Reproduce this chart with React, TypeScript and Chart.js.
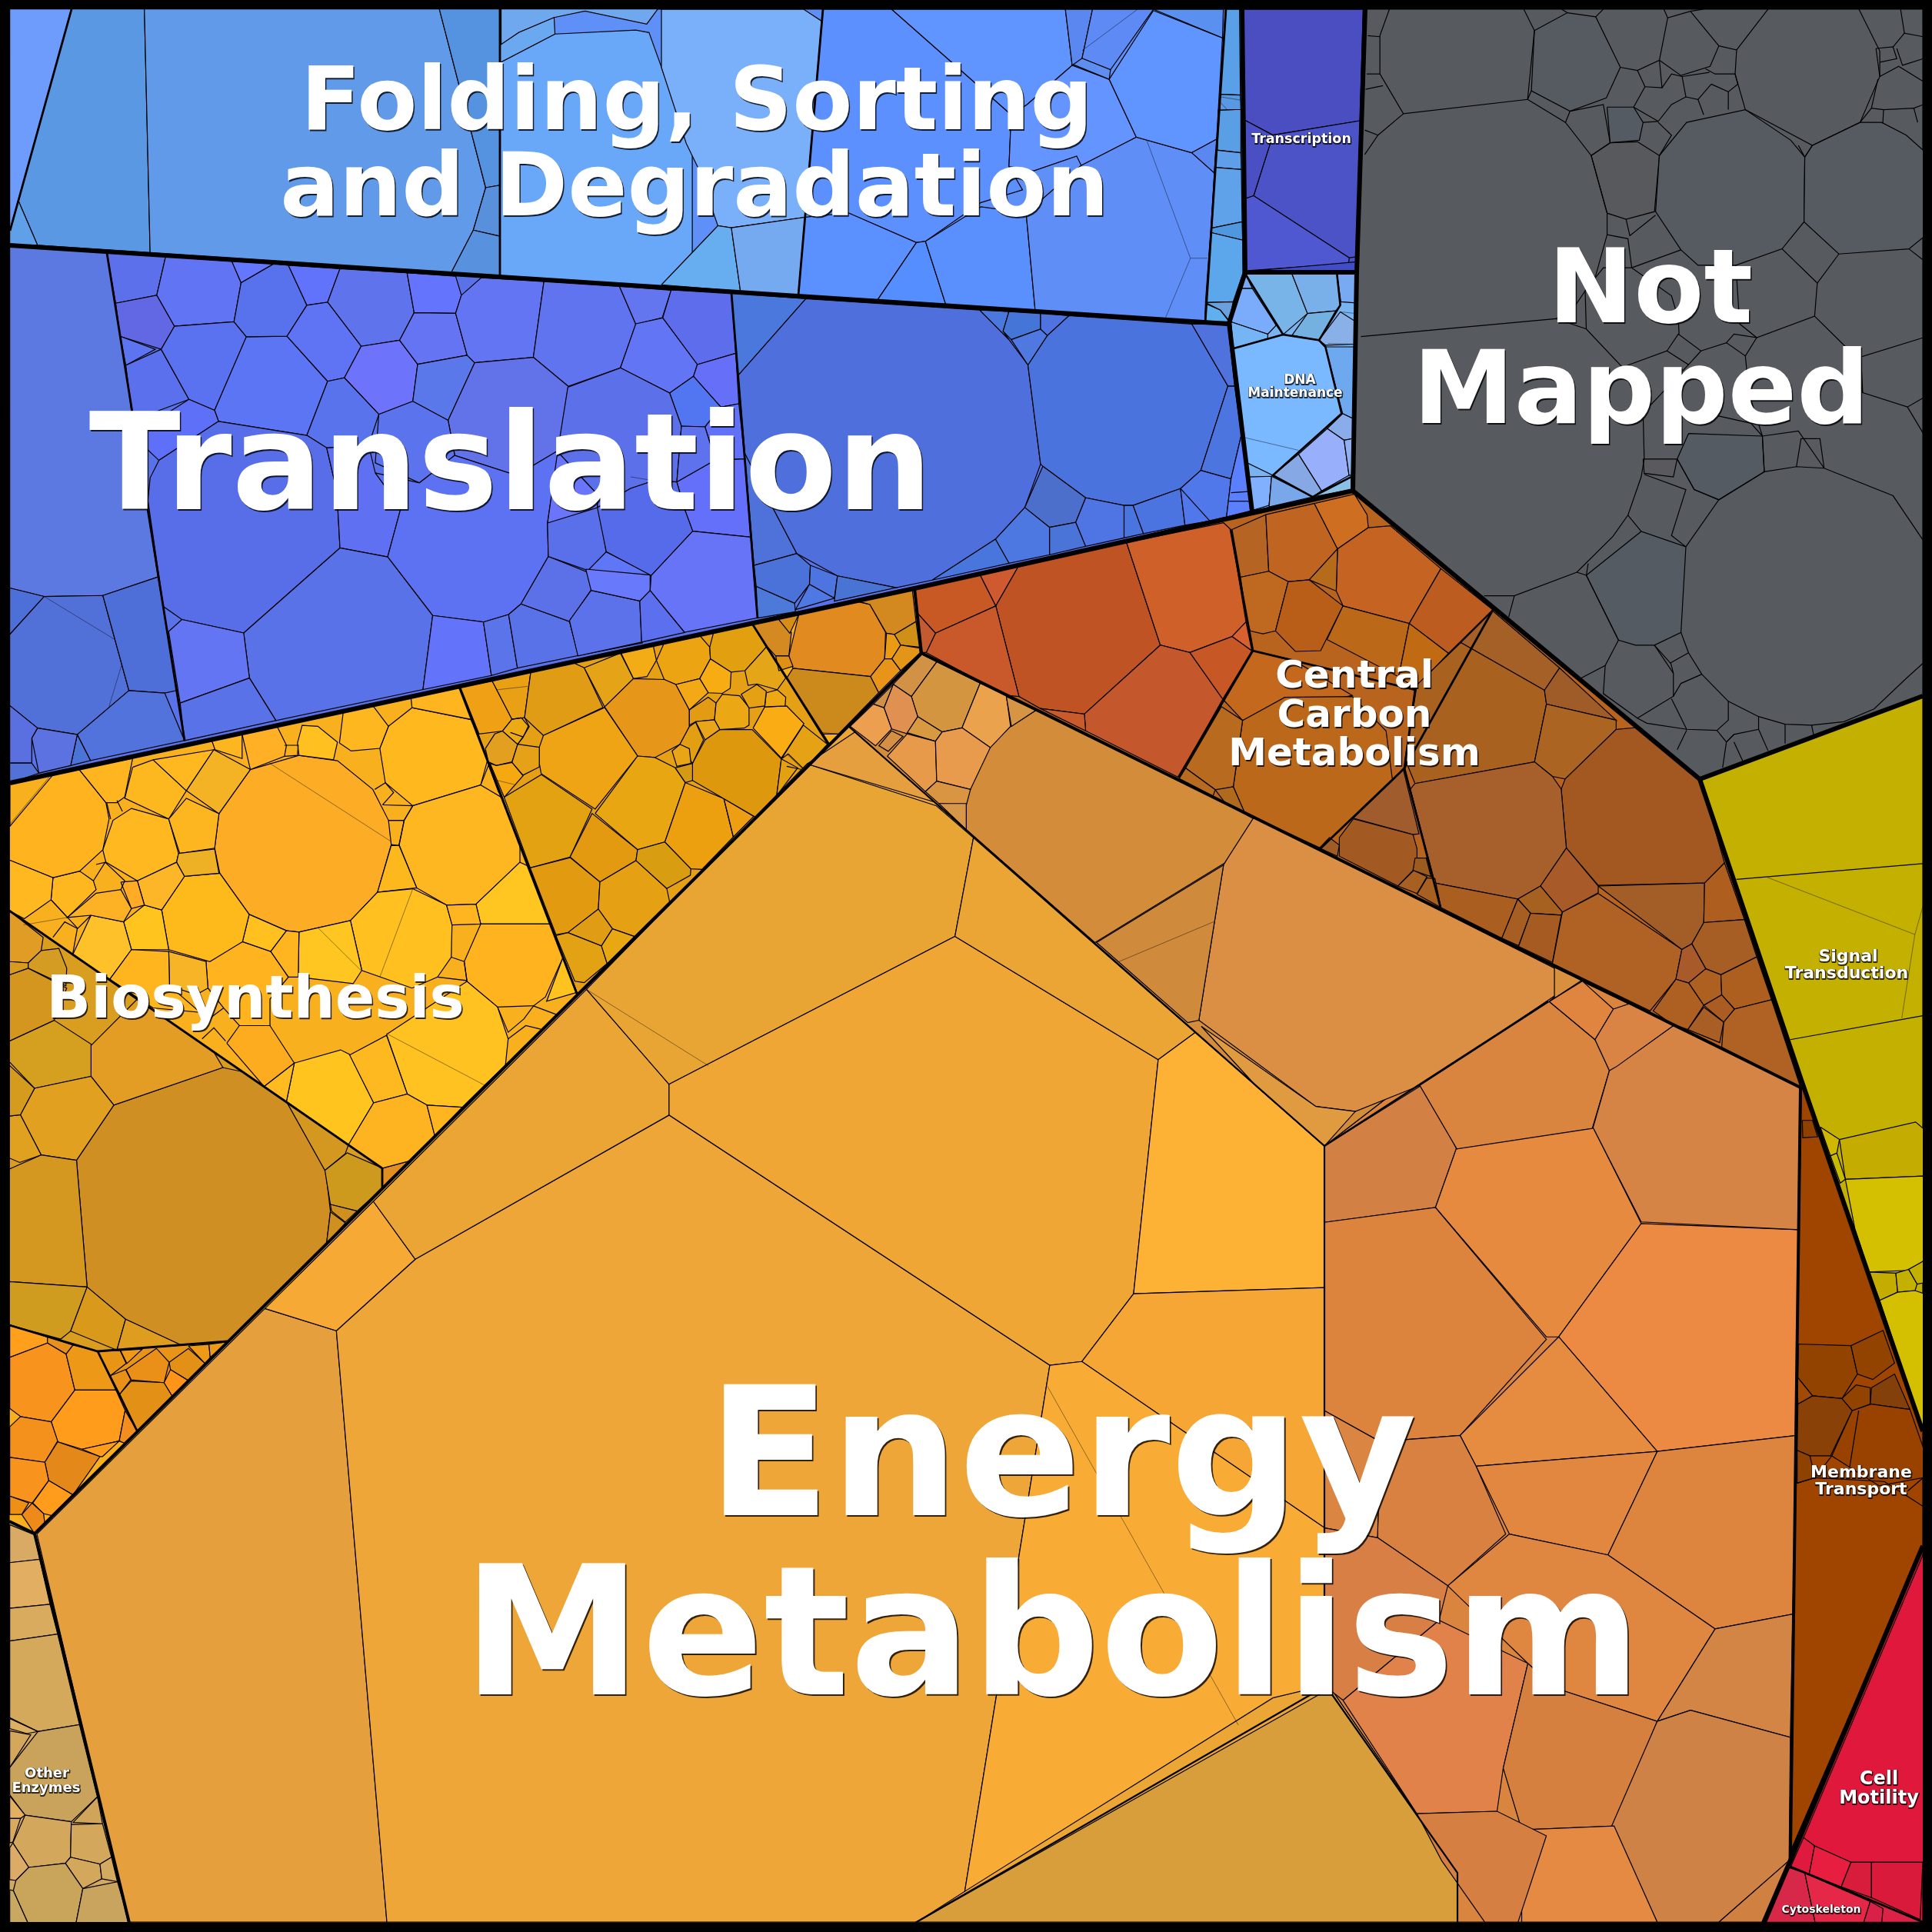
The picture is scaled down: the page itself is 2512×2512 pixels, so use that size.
import React, { useEffect, useRef } from "react";
import { Chart, registerables } from "chart.js";

Chart.register(...registerables);

type Crop = { x: number; y: number; sx: number; sy: number };
type Cell = (string | number)[];

// Reading frames: each list below is read in the frame named next to it.
const FULL: Crop = { x: 0, y: 0, sx: 1, sy: 1 };
const O: Crop = { x: 0, y: 0, sx: 0.6242, sy: 0.6242 };
const Z1: Crop = { x: 1740, y: 0, sx: 2.031, sy: 1.508 };
const Z2: Crop = { x: 0, y: 0, sx: 1.742, sy: 1.537 };
const Z3: Crop = { x: 860, y: 0, sx: 1.704, sy: 1.823 };
const Z4: Crop = { x: 0, y: 880, sx: 1.96, sy: 1.742 };
const Z5: Crop = { x: 580, y: 740, sx: 2.45, sy: 2.613 };
const Z6: Crop = { x: 1100, y: 640, sx: 1.823, sy: 2.063 };
const Z7: Crop = { x: 1700, y: 740, sx: 1.931, sy: 2.063 };
const Z8: Crop = { x: 0, y: 1680, sx: 3, sy: 1.885 };
const Z9: Crop = { x: 2200, y: 1400, sx: 3, sy: 1.41 };
const Z10: Crop = { x: 1560, y: 0, sx: 3, sy: 2.306 };
const Z11: Crop = { x: 720, y: 400, sx: 3, sy: 3 };

const regions: Cell[] = [
  ["#5f90f8", 12, 12, 1615, 12, 1619, 356, 1598, 420, 13, 319],
  ["#4b50c4", 1615, 12, 1775, 12, 1764, 355, 1619, 355],
  ["#79b4f0", 1619, 355, 1764, 355, 1760, 637, 1628, 664, 1598, 420],
  ["#575b60", 1775, 12, 2500, 12, 2500, 905, 2210, 1013, 1760, 637, 1764, 355],
  ["#5a72e8", 13, 319, 1596, 421, 1628, 664, 1189, 765, 13, 1018],
  ["#f8b01e", 13, 1018, 1189, 765, 1198, 849, 45, 1994, 12, 1978],
  ["#b8641f", 1189, 765, 1760, 637, 2210, 1013, 2341, 1414, 1198, 849],
  ["#eba636", 1198, 849, 2341, 1414, 2328, 2407, 2293, 2500, 168, 2500, 45, 1994],
  ["#c4b000", 2210, 1013, 2500, 905, 2500, 1861, 2342, 1414],
  ["#a04500", 2341, 1404, 2500, 1861, 2500, 2010, 2328, 2407],
  ["#df183c", 2500, 2010, 2500, 2500, 2293, 2500, 2328, 2415],
  ["#d4a860", 12, 1978, 45, 1994, 168, 2500, 12, 2500],
];

const notMappedCells: Cell[] = [
  ["#565b62", 518, 60, 605, 25, 680, 33, 745, 132, 708, 192, 612, 218, 510, 178],
  ["#555b62", 710, 210, 780, 210, 805, 240, 795, 275, 718, 280],
  ["#58595c", 790, 278, 848, 305, 835, 415, 760, 430, 710, 418, 668, 305, 718, 280],
  ["#565b62", 848, 305, 920, 240, 1075, 215, 1195, 275, 1232, 308, 1230, 435, 1172, 488, 1050, 520, 950, 520, 905, 490, 838, 415],
  ["#565b62", 1252, 285, 1378, 240, 1435, 240, 1500, 265, 1545, 295, 1545, 465, 1507, 488, 1322, 498, 1230, 435, 1232, 308],
  ["#555b62", 655, 1128, 800, 1042, 918, 1072, 905, 1240, 835, 1265, 785, 1265, 740, 1255],
  ["#545b62", 925, 850, 1120, 855, 1125, 925, 1005, 980, 940, 960, 895, 900],
  ["#5a5a5e", 805, 900, 895, 900, 885, 935, 808, 928],
];
const notMappedEdges: number[][] = [
  [135, 18, 110, 70, 110, 145, 172, 223, 500, 195, 518, 60, 490, 18],
  [172, 223, 105, 265, 70, 303],
  [78, 70, 110, 72],
  [75, 145, 110, 145],
  [72, 175, 118, 168],
  [70, 255, 105, 265],
  [500, 195, 510, 178],
  [680, 33, 700, 18],
  [605, 25, 590, 18],
  [745, 132, 790, 138, 848, 118, 870, 35, 930, 22, 965, 18],
  [870, 35, 860, 18],
  [930, 22, 1005, 90, 982, 130, 905, 148, 848, 118],
  [1005, 90, 1052, 98, 1048, 145, 1075, 215],
  [1052, 98, 1135, 18],
  [1375, 18, 1430, 100, 1430, 150, 1378, 240, 1252, 285, 1075, 215],
  [500, 195, 600, 240, 668, 305, 710, 418, 710, 460, 680, 540, 625, 600, 575, 625, 60, 660],
  [600, 240, 612, 218],
  [612, 218, 700, 205, 718, 280, 668, 305],
  [1215, 285, 1232, 308, 1252, 285],
  [1172, 488, 1265, 555, 1322, 498],
  [1265, 555, 1258, 620, 1105, 662, 1060, 635, 1050, 520],
  [1507, 488, 1545, 510],
  [1258, 620, 1340, 680, 1380, 700, 1545, 662],
  [1340, 680, 1385, 770, 1503, 798, 1545, 780],
  [1503, 798, 1545, 850],
  [1380, 700, 1385, 770],
  [575, 625, 655, 645, 750, 720, 805, 810, 808, 900, 800, 935, 765, 1010, 725, 1052, 630, 1122, 465, 1168, 385, 1168],
  [465, 1168, 450, 1210],
  [630, 1122, 655, 1128, 740, 1255, 705, 1305, 640, 1330],
  [660, 1105, 655, 1128],
  [800, 1042, 765, 1010],
  [808, 930, 918, 960, 880, 1050, 918, 1072],
  [895, 900, 940, 960, 1005, 980, 918, 1072],
  [1005, 980, 1125, 925, 1210, 915, 1283, 918, 1465, 972, 1545, 1060],
  [905, 1240, 925, 1280, 960, 1322, 1030, 1375, 1110, 1405, 1180, 1420, 1250, 1422, 1335, 1415, 1415, 1390, 1500, 1330, 1545, 1300],
  [1125, 925, 1120, 855, 1090, 830, 1000, 815],
  [1120, 855, 1215, 845, 1283, 918],
  [1210, 915, 1222, 860, 1272, 860, 1283, 918],
  [1120, 855, 1080, 760, 1078, 720],
  [750, 720, 868, 688, 925, 715, 805, 810],
  [868, 688, 898, 655, 958, 688, 925, 715],
  [958, 688, 1025, 672, 1075, 698, 1078, 720],
  [1025, 672, 1045, 655, 1105, 662, 1075, 698],
  [655, 645, 652, 570, 700, 525, 775, 525, 765, 468, 710, 460],
  [760, 430, 770, 462, 838, 422],
  [775, 525, 905, 490],
  [900, 655, 898, 625, 880, 580, 775, 525],
  [705, 1305, 700, 1360, 790, 1408, 885, 1365, 885, 1320, 835, 1265],
  [835, 1265, 877, 1300, 925, 1280],
  [885, 1320, 878, 1300],
  [960, 1322, 905, 1340, 885, 1365],
  [880, 1370, 920, 1430, 1000, 1432, 1030, 1412, 1030, 1375],
  [790, 1408, 815, 1418, 920, 1430],
  [1000, 1432, 1025, 1455, 1045, 1440, 1110, 1430, 1110, 1405],
  [1110, 1430, 1135, 1472],
  [1045, 1440, 1025, 1455, 1015, 1505],
  [1045, 1455, 1070, 1495],
  [1180, 1420, 1180, 1458],
  [1250, 1422, 1255, 1440],
  [895, 1470, 920, 1432],
  [1430, 150, 1480, 130, 1545, 160],
  [1475, 95, 1490, 128, 1545, 115],
  [1420, 95, 1465, 92, 1475, 115, 1430, 122],
  [1420, 95, 1430, 150],
  [1465, 92, 1495, 65, 1545, 72],
  [1495, 65, 1485, 18],
  [1378, 240, 1408, 212, 1440, 215, 1438, 242],
  [1408, 212, 1425, 155],
  [1440, 215, 1520, 212, 1530, 240],
  [1520, 212, 1545, 205],
  [790, 138, 810, 170, 780, 210],
  [810, 170, 855, 172, 848, 118],
  [855, 172, 880, 145, 908, 150, 918, 190, 880, 205, 845, 238, 780, 210],
  [805, 240, 845, 238],
  [918, 190, 950, 195, 985, 165],
  [908, 150, 980, 142],
  [985, 165, 1030, 180, 1055, 165, 1048, 145],
  [950, 195, 965, 225],
  [1030, 180, 1030, 215],
  [970, 135, 995, 145, 1048, 145],
  [845, 240, 880, 265, 860, 290, 848, 305],
];

const foldingLeft: Cell[] = [
  ["#6e9cfc", 22, 18, 162, 18, 22, 462],
  ["#5b98e4", 162, 18, 327, 18, 340, 505, 85, 490, 42, 402, 22, 462],
  ["#609ae8", 327, 18, 995, 18, 1100, 375, 1072, 460, 1022, 545, 340, 505],
  ["#5592e0", 995, 18, 1133, 18, 1133, 370, 1100, 375],
  ["#5890dc", 1100, 375, 1133, 370, 1132, 472, 1072, 460],
  ["#5892de", 1072, 460, 1132, 472, 1132, 552, 1022, 545],
  ["#5fa0e8", 22, 462, 42, 402, 85, 490, 22, 490],
  ["#6fa8ee", 1135, 18, 1490, 18, 1465, 48, 1325, 22, 1255, 35, 1175, 65, 1135, 90],
  ["#69a7f8", 1133, 125, 1257, 68, 1440, 60, 1470, 65, 1535, 225, 1568, 290, 1568, 575, 1495, 572, 1133, 552],
  ["#6aa8f0", 1133, 90, 1175, 65, 1255, 35, 1257, 68, 1133, 125],
];
const foldingMid: Cell[] = [
  ["#7ab0fa", 0, 160, 55, 340, 80, 395, 125, 535, 155, 540, 318, 515, 355, 50, 315, 22, 0, 22],
  ["#66aef0", 0, 675, 125, 535, 155, 540, 175, 690],
  ["#76aaf0", 155, 540, 318, 515, 303, 700, 175, 690],
  ["#5d90ff", 358, 22, 510, 22, 775, 272, 770, 395, 800, 450, 708, 480, 585, 572, 565, 575, 415, 505, 318, 515],
  ["#6094ff", 510, 22, 895, 22, 910, 155, 810, 248, 775, 272],
  ["#5a90ff", 318, 515, 415, 505, 565, 575, 478, 712, 303, 700],
  ["#558fff", 565, 575, 585, 572, 630, 722, 478, 712],
  ["#5a90fd", 585, 572, 708, 490, 808, 505, 828, 735, 630, 722],
  ["#5f8ef6", 808, 505, 930, 392, 1052, 325, 1175, 362, 1225, 410, 1205, 765, 1115, 758, 828, 735],
  ["#6494ff", 770, 395, 775, 272, 810, 248, 910, 155, 992, 188, 1052, 325, 930, 392, 920, 370, 825, 405],
  ["#5e8ef0", 932, 138, 995, 165, 992, 188, 910, 152],
  ["#5a88f0", 895, 22, 955, 22, 932, 138, 910, 155],
  ["#5d8af4", 955, 22, 1090, 22, 995, 165, 932, 138],
  ["#5a90f0", 1090, 22, 1245, 22, 1243, 90],
  ["#6094ff", 1090, 25, 1243, 90, 1230, 330, 1175, 362, 1052, 325, 992, 188],
  ["#5a88f0", 1175, 362, 1230, 330, 1225, 410],
];
const foldingMidFaint: number[][] = [
  [1075, 332, 1172, 612, 1115, 758],
  [1172, 612, 1210, 612],
  [932, 120, 1055, 22],
  [825, 405, 920, 370],
];
const stripAndDna: Cell[] = [
  ["#5aa0e8", 100, 28, 155, 28, 158, 285, 80, 283],
  ["#5a9ee6", 73, 330, 160, 328, 160, 458, 68, 450],
  ["#5a98e2", 80, 283, 158, 285, 160, 328, 73, 330],
  ["#5f9ee8", 62, 450, 160, 458, 162, 508, 58, 502],
  ["#60a2ea", 58, 502, 162, 508, 165, 665, 45, 684],
  ["#4f98e0", 45, 684, 165, 665, 167, 720, 42, 697],
  ["#5ca6ec", 42, 697, 167, 720, 168, 820, 130, 905, 22, 907],
  ["#6aa0dc", 22, 907, 130, 905, 115, 962, 80, 930],
  ["#60b0f0", 22, 910, 80, 930, 115, 965, 20, 965],
  ["#4a4ec0", 163, 28, 637, 28, 625, 362, 285, 405, 170, 358],
  ["#4b53c6", 285, 405, 625, 362, 612, 770, 583, 773, 210, 587],
  ["#4a50c4", 170, 358, 285, 405, 210, 587, 172, 597],
  ["#4f58d0", 172, 597, 210, 587, 583, 773, 580, 790, 178, 812],
  ["#3f4ec8", 240, 810, 612, 785, 612, 815, 178, 815],
  ["#7aa8f0", 180, 825, 205, 865, 155, 865],
  ["#7aacfb", 155, 865, 205, 865, 298, 975, 265, 1002, 122, 965],
  ["#75b5f5", 122, 965, 265, 1002, 265, 1015, 130, 1045],
  ["#79b4e8", 180, 822, 360, 822, 420, 940, 325, 1003, 298, 975],
  ["#79b0ea", 360, 822, 535, 822, 548, 915, 530, 932, 420, 940],
  ["#74b0e0", 420, 940, 530, 932, 465, 1020, 360, 1005],
  ["#78aaf4", 535, 822, 610, 822, 608, 908, 550, 905],
  ["#8ab0e8", 465, 1020, 548, 935, 610, 965, 605, 1032, 490, 1035],
  ["#6ea8ee", 490, 1040, 605, 1040, 597, 1255, 557, 1240],
  ["#7ab8ff", 130, 1045, 325, 1003, 465, 1020, 490, 1040, 553, 1240, 285, 1425, 185, 1388],
  ["#8aacea", 557, 1240, 597, 1255, 597, 1315, 563, 1320, 497, 1285],
  ["#98b0fc", 385, 1362, 497, 1285, 563, 1320, 582, 1425, 475, 1472],
  ["#86a8e4", 285, 1425, 385, 1362, 475, 1472, 440, 1490],
  ["#80b0ff", 190, 1430, 280, 1428, 270, 1515, 205, 1530],
  ["#78a8ea", 280, 1428, 440, 1490, 270, 1520],
  ["#90b0f0", 563, 1320, 597, 1315, 592, 1425, 582, 1425],
  ["#88c0e8", 475, 1472, 590, 1430, 590, 1468, 440, 1490],
];
const stripFine: number[][] = [
  [78, 290, 158, 300],
  [78, 305, 108, 330],
  [548, 935, 610, 940],
  [500, 1030, 605, 1032],
  [175, 1312, 385, 1350],
];
const dnaGroupLines: number[][] = [
  [178, 822, 325, 1003, 465, 1020, 548, 915, 535, 822],
  [130, 1045, 325, 1003],
  [465, 1020, 490, 1040, 553, 1240, 285, 1425, 440, 1490, 590, 1430],
];

const translationLeft: Cell[] = [
  ["#5b79e0", 22, 490, 242, 505, 300, 820, 358, 1153, 233, 1190, 100, 1192, 22, 1175],
  ["#4d6fd8", 22, 1175, 100, 1192, 22, 1268],
  ["#5271d8", 100, 1192, 233, 1190, 292, 1380, 175, 1468, 85, 1455, 22, 1410, 22, 1268],
  ["#4e6ed8", 233, 1190, 358, 1153, 400, 1380, 373, 1385, 292, 1380],
  ["#5272dc", 292, 1380, 373, 1385, 418, 1480, 205, 1520, 175, 1468],
  ["#4a74d8", 175, 1468, 205, 1520, 160, 1530],
  ["#5b72e0", 85, 1455, 175, 1468, 160, 1530, 88, 1545, 72, 1475],
  ["#5a6fe0", 22, 1410, 85, 1455, 72, 1475, 72, 1525, 22, 1525],
  ["#5272d8", 22, 1525, 72, 1525, 88, 1545, 22, 1565],
  ["#5c70ec", 242, 505, 375, 513, 355, 590, 262, 606],
  ["#6074f4", 375, 513, 525, 522, 546, 565, 530, 643, 395, 652, 355, 590],
  ["#6268e4", 262, 606, 355, 590, 395, 652, 365, 698, 272, 672],
  ["#5c74f0", 272, 672, 352, 698, 285, 730],
  ["#5a70ec", 285, 730, 365, 698, 428, 798, 300, 840],
  ["#5b72f0", 395, 652, 530, 643, 558, 673, 486, 820, 428, 798, 365, 698],
  ["#5b75f4", 558, 673, 650, 672, 742, 762, 695, 870, 495, 842, 486, 820],
  ["#5872ee", 546, 565, 620, 527, 653, 530, 695, 610, 650, 672, 558, 673, 530, 643],
  ["#6478ff", 525, 522, 620, 527, 546, 565],
  ["#6073fa", 653, 530, 770, 537, 742, 604, 695, 610],
  ["#5f74ec", 770, 537, 922, 545, 938, 625, 905, 680, 818, 692, 742, 604],
  ["#6474fc", 922, 545, 1032, 552, 1045, 590, 1032, 626, 938, 625],
  ["#5f74f4", 695, 610, 742, 604, 818, 692, 780, 755, 742, 762, 650, 672],
  ["#6d74fb", 818, 692, 905, 680, 946, 728, 935, 802, 858, 828, 780, 755],
  ["#6474f2", 905, 680, 938, 625, 1032, 626, 1058, 710, 946, 728],
  ["#5b78ea", 946, 728, 1058, 710, 1075, 725, 1015, 840, 935, 802],
  ["#6475f4", 1045, 590, 1090, 555, 1232, 562, 1208, 714, 1075, 725, 1058, 710, 1032, 626],
  ["#6074f0", 1232, 562, 1403, 572, 1440, 648, 1405, 735, 1287, 772, 1208, 714],
  ["#6272e8", 1075, 725, 1208, 714, 1287, 772, 1265, 900, 1170, 950, 1030, 910, 1015, 840],
  ["#6475f0", 1403, 572, 1520, 580, 1500, 635, 1440, 648],
  ["#5873ec", 742, 762, 780, 755, 858, 828, 835, 890, 740, 895, 695, 870],
  ["#5b74ee", 858, 828, 935, 802, 1015, 840, 1030, 910, 950, 965, 850, 925],
  ["#5e6ff8", 428, 798, 486, 820, 495, 842, 360, 920, 300, 870],
  ["#586ee8", 360, 920, 495, 842, 695, 870, 740, 895, 763, 982, 770, 1095, 552, 1265, 412, 1238, 370, 1212, 335, 1000, 340, 955],
  ["#6070f2", 740, 895, 835, 890, 850, 945, 908, 1015, 878, 1113, 770, 1095, 763, 982],
  ["#5d72f2", 850, 945, 950, 965, 1030, 910, 1170, 950, 1265, 900, 1240, 1045, 1242, 1112, 1180, 1207, 1152, 1228, 1095, 1243, 980, 1230, 878, 1113, 908, 1015],
  ["#5a72e8", 552, 1265, 770, 1095, 878, 1113, 980, 1230, 958, 1378, 625, 1440, 565, 1355],
  ["#6375f2", 412, 1238, 552, 1265, 565, 1355, 408, 1405, 382, 1262],
  ["#5a72e8", 408, 1405, 565, 1355, 625, 1440, 418, 1480],
  ["#6373fa", 980, 1230, 1095, 1243, 1113, 1350, 958, 1378],
  ["#5b74ea", 1095, 1243, 1152, 1228, 1172, 1335, 1113, 1350],
  ["#5a72e8", 1152, 1228, 1180, 1207, 1290, 1242, 1310, 1310, 1172, 1335],
  ["#5c70e8", 1180, 1207, 1242, 1112, 1335, 1145, 1340, 1178, 1290, 1242],
  ["#5a70ea", 1240, 1045, 1355, 1000, 1373, 1103, 1332, 1140, 1242, 1112],
  ["#5f76f6", 1340, 1178, 1332, 1140, 1373, 1103, 1475, 1148, 1473, 1180, 1450, 1200],
  ["#5c72ea", 1290, 1242, 1340, 1178, 1450, 1200, 1455, 1285, 1310, 1310],
];
const translationCentre: Cell[] = [
  ["#5d6dec", 425, 40, 458, -69, 693, -57, 710, 178, 560, 222],
  ["#6275f5", 320, 63, 425, 40, 560, 222, 545, 268, 452, 333, 260, 235],
  ["#656ff8", 560, 222, 710, 178, 722, 375, 652, 388, 545, 268],
  ["#5276f2", 545, 268, 652, 388, 590, 465, 498, 462, 452, 333],
  ["#5c70ea", 55, 310, 260, 235, 452, 333, 498, 462, 480, 680, 390, 675, 300, 705, 170, 780, 170, 728, 120, 675, 15, 562],
  ["#6272f8", 590, 465, 652, 388, 722, 375, 745, 590, 630, 595],
  ["#5e72ee", 498, 462, 590, 465, 630, 595, 480, 680],
  ["#646ffa", 480, 680, 630, 595, 745, 590, 768, 895, 542, 872, 510, 785],
  ["#6b75fc", 15, 562, 120, 675, 170, 728, 170, 780, -24, 840],
  ["#566bea", 300, 705, 390, 675, 480, 680, 510, 785, 542, 872, 380, 1045, 205, 952, 170, 780],
  ["#6874f8", 380, 1045, 542, 872, 768, 895, 795, 1210, 510, 1266, 376, 1103],
];
const translationCentreFaint: number[][] = [
  [300, 660, 390, 675],
];
const translationRightA: Cell[] = [
  ["#4a78dc", 155, 695, 320, 708, 170, 890],
  ["#4e72da", 170, 890, 185, 1075, 245, 1200, 300, 1312, 205, 1340],
  ["#4f70dc", 320, 708, 705, 735, 770, 805, 812, 865, 840, 1100, 805, 1203, 740, 1278, 600, 1375, 520, 1393, 390, 1365, 300, 1312, 245, 1200, 185, 1075, 170, 890],
  ["#4a73de", 812, 865, 855, 795, 903, 748, 1175, 768, 1255, 915, 1195, 1115, 1150, 1158, 1045, 1198, 1025, 1198, 940, 1180, 845, 1105, 840, 1100],
  ["#4a78de", 705, 735, 770, 738, 757, 785, 770, 805],
  ["#4675d8", 770, 738, 840, 742, 840, 780, 775, 805, 757, 785],
  ["#4f78e0", 775, 805, 840, 780, 855, 795, 812, 865],
  ["#4f74e0", 840, 742, 903, 748, 855, 795, 840, 780],
  ["#4d75e0", 1255, 915, 1270, 915, 1285, 1030, 1262, 1135, 1195, 1115],
  ["#4f72dc", 1175, 768, 1255, 768, 1270, 915, 1255, 915],
  ["#4d6fcc", 845, 1105, 940, 1180, 918, 1238, 860, 1250, 805, 1203],
  ["#4d78e2", 805, 1203, 860, 1250, 860, 1315, 770, 1335, 740, 1278],
  ["#4a74d8", 860, 1250, 918, 1238, 940, 1295, 860, 1315],
  ["#4f74e4", 918, 1238, 940, 1180, 1025, 1198, 1025, 1275, 940, 1295],
  ["#4a74de", 1025, 1198, 1045, 1198, 1068, 1265, 1025, 1275],
  ["#4c74e0", 1045, 1198, 1150, 1158, 1160, 1245, 1068, 1265],
  ["#5078ea", 1150, 1158, 1195, 1115, 1262, 1135, 1252, 1225, 1215, 1235, 1160, 1245],
  ["#5a80ff", 1262, 1135, 1285, 1030, 1308, 1210, 1252, 1225],
  ["#4a72d8", 205, 1340, 300, 1312, 330, 1340, 328, 1385, 295, 1430, 210, 1390],
  ["#4e74e0", 330, 1340, 390, 1365, 383, 1418, 328, 1385],
  ["#4a74d4", 390, 1365, 520, 1393, 383, 1425],
  ["#4d7ad8", 210, 1390, 295, 1430, 297, 1450, 213, 1465],
  ["#4f78e2", 328, 1385, 383, 1418, 297, 1445],
  ["#4876dc", 600, 1375, 740, 1278, 770, 1335],
];
const translationRightEdges: number[][] = [
  [1150, 1158, 1215, 1235],
  [1262, 1168, 1300, 1165],
  [1258, 1188, 1305, 1188],
];
const translationFaint: number[][] = [
  [100, 1192, 260, 1278],
  [275, 1330, 247, 1412],
];
const translationLower: Cell[] = [
  ["#5c72ea", 393, 175, 462, 72, 617, 108, 623, 248, 420, 295],
  ["#5c6fee", 617, 108, 650, 72, 760, 215, 623, 248],
  ["#6879fb", 445, 0, 650, 20, 650, 72, 617, 108, 462, 72],
];

const bioUpper: Cell[] = [
  ["#fdac25", 638, 210, 762, 178, 860, 190, 950, 255, 990, 325, 997, 380, 962, 488, 893, 552, 762, 578, 730, 575, 635, 538, 560, 445, 547, 388, 558, 310],
  ["#ffb81d", 990, 112, 1050, 70, 1200, 97, 1245, 180, 1225, 245, 1052, 292, 982, 240, 968, 162],
  ["#feb720", 1052, 292, 1225, 245, 1282, 275, 1325, 355, 1325, 420, 1213, 515, 1138, 517, 1062, 478, 1017, 380, 1030, 325],
  ["#fdb81e", 962, 488, 1062, 478, 1017, 382, 997, 382],
  ["#ffc020", 893, 552, 962, 488, 1052, 480, 1138, 517, 1152, 560, 1150, 635, 1115, 680, 1050, 705, 922, 665],
  ["#ffc520", 1213, 515, 1325, 420, 1350, 430, 1402, 560, 1225, 560],
  ["#feb31f", 1225, 560, 1402, 560, 1435, 635, 1390, 725, 1360, 745, 1268, 748, 1190, 690, 1183, 645],
  ["#feb520", 1138, 517, 1213, 515, 1225, 560, 1152, 562],
  ["#ffc320", 1435, 635, 1470, 715, 1393, 735],
  ["#ffc220", 985, 810, 1190, 690, 1268, 748, 1295, 820, 1288, 880, 1235, 925, 1178, 975, 1088, 970, 1038, 945],
  ["#feb820", 890, 857, 985, 812, 1038, 945, 952, 965],
  ["#ffc51e", 750, 875, 868, 845, 890, 855, 952, 965, 888, 1060, 730, 962],
  ["#feb320", 888, 1060, 952, 965, 1038, 945, 1088, 970, 1108, 1038, 1050, 1095, 975, 1113],
  ["#feb520", 1088, 970, 1178, 975, 1108, 1040],
  ["#fdac20", 578, 830, 610, 790, 688, 790, 750, 875, 673, 928],
  ["#ffbb20", 673, 928, 750, 875, 730, 962],
  ["#ffc520", 762, 578, 893, 552, 922, 665, 900, 695, 760, 680],
  ["#feb31f", 525, 645, 618, 600, 690, 622, 735, 680, 688, 730, 688, 790, 610, 790, 570, 750, 530, 705],
  ["#ffc020", 635, 538, 730, 575, 690, 622, 618, 600],
  ["#feb520", 730, 575, 762, 578, 760, 680, 735, 680, 690, 622],
  ["#feb91b", 412, 528, 470, 452, 560, 445, 635, 538, 618, 600, 535, 645, 430, 618],
  ["#ffc41e", 315, 555, 368, 517, 412, 528, 430, 618, 335, 618],
  ["#fec12a", 185, 630, 232, 540, 315, 555, 335, 618, 280, 685],
  ["#feb71e", 130, 505, 135, 455, 203, 440, 238, 462, 245, 482, 172, 545],
  ["#ffb81f", 262, 392, 288, 325, 335, 298, 430, 322, 455, 400, 450, 420, 350, 462, 270, 420],
  ["#ffb41f", 24, 340, 135, 222, 200, 208, 270, 285, 278, 322, 262, 392, 203, 440, 135, 455, 24, 415],
  ["#ffb51f", 200, 208, 338, 185, 318, 272, 298, 285, 270, 285],
  ["#feb81f", 338, 205, 390, 188, 475, 258, 430, 322, 318, 275],
  ["#ffb81f", 390, 188, 545, 165, 475, 258],
  ["#f3b325", 475, 258, 545, 165, 638, 210, 558, 310],
  ["#feb620", 430, 322, 475, 275, 558, 310, 547, 388, 458, 400],
  ["#eeb025", 455, 400, 547, 390, 558, 445, 470, 452, 450, 420],
  ["#fdb628", 350, 462, 450, 420, 470, 452, 412, 528, 368, 517],
  ["#ffb81f", 24, 415, 135, 455, 130, 505, 62, 548, 24, 530],
  ["#fdb225", 245, 490, 308, 482, 335, 525, 315, 555, 232, 540, 172, 545],
  ["#ffab25", 308, 465, 350, 462, 368, 517, 335, 525],
  ["#fdb520", 540, 145, 617, 130, 617, 185, 548, 165],
  ["#ffb025", 617, 130, 705, 110, 730, 155, 725, 180, 638, 210],
  ["#ffc020", 758, 150, 770, 110, 810, 112, 860, 148, 850, 188, 762, 178],
  ["#feb71f", 865, 150, 875, 78, 950, 65, 990, 112, 968, 162, 895, 168],
  ["#ffb51f", 1050, 70, 1047, 45, 1172, 22, 1203, 97],
  ["#f6b426", 430, 622, 525, 645, 530, 705, 500, 720, 432, 700],
  ["#ffb61e", 280, 685, 335, 618, 430, 622, 432, 700, 510, 760, 390, 750],
];
const bioUpperEdges: number[][] = [
  [272, 285, 282, 322],
  [298, 280, 312, 305],
  [245, 425, 268, 420, 318, 462, 308, 482],
  [238, 462, 268, 420],
  [130, 505, 172, 545, 198, 570, 232, 540],
  [135, 590, 165, 555, 197, 570, 185, 630],
  [955, 255, 982, 240, 1003, 262, 975, 290],
  [975, 290, 1052, 292, 1030, 325, 990, 325],
  [990, 325, 1030, 325, 1017, 382, 997, 380],
  [725, 155, 760, 155, 758, 178, 725, 180],
  [1225, 245, 1245, 200, 1270, 260, 1282, 275],
  [1150, 635, 1183, 645, 1190, 688, 1115, 680],
  [510, 800, 540, 770, 570, 750],
  [575, 825, 545, 795, 515, 820],
  [1268, 748, 1295, 805, 1335, 775, 1360, 745],
  [1295, 820, 1340, 790, 1378, 798],
  [1358, 745, 1418, 765],
];
const bioUpperFaint: number[][] = [
  [24, 335, 130, 222],
  [686, 195, 995, 372],
  [1052, 480, 968, 680],
  [812, 570, 920, 665],
  [985, 808, 1235, 925],
  [60, 562, 172, 545, 245, 482],
];
const bioLower: Cell[] = [
  ["#d99d1f", 24, 530, 975, 1113, 975, 1160, 580, 1505, 248, 1528, 24, 1468],
  ["#cf8f22", 290, 970, 568, 885, 620, 895, 730, 962, 830, 1120, 842, 1210, 832, 1285, 580, 1505, 460, 1513, 320, 1455, 222, 1382, 195, 1095],
  ["#e39c24", 232, 835, 350, 730, 545, 850, 568, 885, 290, 970, 232, 905],
  ["#d59f20", 24, 825, 138, 778, 232, 832, 232, 905, 88, 932, 24, 872],
  ["#e2a020", 88, 932, 232, 905, 290, 970, 195, 1095, 105, 1083, 52, 992],
  ["#e0a020", 52, 992, 105, 1083, 50, 1100, 24, 1090, 24, 995],
  ["#d4971f", 24, 1115, 105, 1083, 195, 1095, 222, 1382, 24, 1370],
  ["#cf9c1f", 24, 1370, 222, 1382, 180, 1482, 155, 1500, 24, 1468],
  ["#d99a1c", 222, 1382, 320, 1455, 298, 1525, 180, 1482],
  ["#df9d20", 320, 1455, 460, 1513, 298, 1525],
  ["#d59620", 24, 675, 72, 660, 170, 705, 138, 778, 24, 825],
  ["#e09c25", 24, 530, 110, 590, 105, 620, 72, 648, 24, 645],
  ["#d89a20", 24, 645, 72, 648, 72, 660, 24, 675],
  ["#d49c22", 105, 620, 150, 615, 170, 660, 168, 700, 72, 660, 72, 648],
  ["#d49820", 730, 962, 888, 1060, 880, 1080, 828, 1118],
  ["#cd9a1d", 828, 1118, 885, 1078, 975, 1113, 975, 1158, 910, 1210, 842, 1195],
  ["#d09020", 842, 1195, 910, 1210, 880, 1235, 845, 1210],
  ["#e08f20", 975, 1113, 1050, 1095, 975, 1160],
  ["#d09020", 842, 1212, 880, 1237, 832, 1285],
  ["#d49b1e", 24, 880, 88, 932, 52, 992, 24, 995],
];
const bioOrange: Cell[] = [
  ["#ff9f1c", 38, 80, 185, 110, 185, 125, 38, 160],
  ["#e8901c", 185, 110, 285, 130, 258, 152, 185, 125],
  ["#f8941e", 185, 125, 258, 152, 292, 240, 200, 318, 80, 305, 38, 285, 38, 160],
  ["#ee9818", 258, 152, 285, 130, 380, 145, 452, 240, 292, 240],
  ["#ff9c1c", 292, 240, 452, 240, 488, 290, 465, 365, 320, 385, 225, 367, 200, 318],
  ["#f4901c", 38, 330, 80, 305, 200, 318, 225, 365, 175, 417, 38, 405],
  ["#e4881a", 225, 367, 390, 403, 285, 497, 190, 462, 175, 417],
  ["#f8941e", 38, 405, 175, 417, 190, 462, 125, 517, 38, 500],
  ["#ff9c1c", 190, 462, 285, 497, 205, 548, 170, 543, 128, 517],
  ["#ee8a1a", 85, 545, 125, 517, 170, 543, 175, 568, 135, 592],
  ["#ee9016", 38, 500, 112, 517, 85, 545, 38, 545],
  ["#f28e20", 465, 365, 488, 290, 535, 340, 485, 370],
  ["#ff9c1c", 320, 385, 465, 365, 400, 403, 390, 403],
  ["#e89418", 380, 145, 890, 122, 535, 340],
  ["#e89415", 380, 145, 468, 143, 492, 175, 430, 205],
  ["#ea8f18", 492, 190, 610, 138, 660, 172, 640, 222, 512, 215],
  ["#e39016", 512, 218, 640, 222, 672, 255, 535, 340, 467, 250],
  ["#e89118", 430, 205, 490, 190, 510, 215, 467, 250],
  ["#e39116", 660, 172, 735, 138, 800, 175, 735, 217, 665, 190],
  ["#ff9418", 640, 222, 665, 190, 735, 217, 672, 255],
  ["#ee9a18", 470, 143, 555, 140, 495, 175],
  ["#ee9a18", 735, 132, 815, 128, 820, 160, 800, 175],
  ["#ee9a18", 815, 128, 890, 122, 820, 160],
];
const otherEnzymes: Cell[] = [
  ["#d9aa64", 38, 570, 135, 595, 155, 655, 38, 663],
  ["#e2ae62", 38, 663, 155, 655, 195, 765, 38, 775],
  ["#d9ab5f", 38, 775, 195, 765, 225, 838, 38, 855],
  ["#d4a95c", 38, 855, 225, 838, 310, 1060, 148, 1077, 38, 1043],
  ["#c9a25c", 148, 1077, 310, 1060, 380, 1237, 278, 1298, 98, 1282, 38, 1232, 38, 1165],
  ["#dcb060", 38, 1045, 148, 1077, 105, 1082, 38, 1070],
  ["#d4a85c", 38, 1075, 120, 1085, 38, 1165],
  ["#e2b060", 38, 1235, 98, 1282, 80, 1290, 38, 1290],
  ["#d8ab5f", 38, 1290, 80, 1290, 50, 1348, 38, 1350],
  ["#d4a85c", 98, 1282, 278, 1298, 275, 1385, 255, 1400, 112, 1410, 50, 1350],
  ["#d4a85c", 278, 1305, 400, 1303, 435, 1385, 390, 1402, 275, 1385],
  ["#d0a45a", 380, 1237, 400, 1303, 285, 1300],
  ["#d4a85c", 275, 1385, 390, 1402, 397, 1438, 323, 1462, 255, 1400],
  ["#d4aa60", 390, 1402, 435, 1385, 458, 1445, 397, 1438],
  ["#dcab68", 38, 1362, 50, 1350, 112, 1410, 62, 1442, 38, 1440],
  ["#c9a55c", 62, 1442, 112, 1410, 255, 1400, 323, 1462, 297, 1545, 108, 1545, 52, 1467],
  ["#c9a45e", 323, 1462, 458, 1445, 505, 1545, 297, 1545],
  ["#c9a862", 38, 1465, 52, 1467, 108, 1545, 38, 1545],
];
const bioMiddle: Cell[] = [
  ["#e5a015", 45, 400, 975, 185, 1215, 595, 445, 1425, 418, 1440],
  ["#f0a015", 45, 400, 147, 380, 210, 510, 180, 550, 105, 560],
  ["#e9a015", 147, 380, 270, 348, 250, 505, 210, 510],
  ["#e09c14", 270, 348, 405, 318, 440, 335, 500, 470, 310, 565, 250, 505],
  ["#e5a318", 440, 335, 555, 285, 597, 372, 505, 468],
  ["#f4ac16", 555, 280, 660, 260, 670, 310, 640, 365, 597, 372],
  ["#eda412", 670, 310, 695, 250, 810, 228, 840, 265, 842, 305, 808, 372, 732, 392, 695, 375],
  ["#e2a010", 840, 265, 852, 215, 975, 185, 1020, 265, 952, 345, 908, 350, 842, 305],
  ["#e5a518", 952, 345, 1020, 265, 1082, 370, 1055, 410, 990, 390, 962, 395],
  ["#e6971a", 505, 468, 597, 372, 695, 375, 732, 392, 775, 478, 775, 535, 745, 595, 665, 640, 610, 635],
  ["#eea415", 310, 565, 505, 470, 610, 635, 475, 815, 303, 695, 297, 660, 297, 605],
  ["#e8a612", 475, 830, 610, 635, 665, 640, 730, 675, 762, 725, 697, 927, 610, 953],
  ["#e2a212", 185, 775, 303, 698, 465, 815, 395, 978, 268, 1015],
  ["#e39a10", 395, 978, 465, 830, 610, 953, 605, 990, 490, 1063],
  ["#e29a10", 268, 1015, 395, 980, 490, 1063, 485, 1155, 388, 1235, 350, 1242],
  ["#e6a014", 490, 1063, 605, 990, 703, 1085, 712, 1130, 600, 1248, 530, 1222, 485, 1155],
  ["#d99d12", 605, 990, 610, 953, 697, 927, 780, 1018, 778, 1040, 703, 1085],
  ["#eca010", 697, 927, 762, 725, 885, 780, 915, 910, 815, 1020, 780, 1018],
  ["#ee9e12", 885, 780, 980, 840, 915, 910],
  ["#dd980e", 785, 718, 785, 660, 825, 580, 872, 545, 975, 545, 1068, 645, 1053, 770, 985, 842],
  ["#e09c14", 388, 1235, 485, 1155, 530, 1222, 495, 1280],
  ["#e3a214", 350, 1245, 388, 1235, 495, 1280, 513, 1340, 440, 1405, 410, 1400],
  ["#e8a812", 495, 1280, 530, 1222, 600, 1248, 513, 1340],
  ["#e3a010", 1068, 645, 1120, 675, 1053, 770],
  ["#e5a215", 1068, 645, 1138, 530, 1215, 595, 1140, 680, 1090, 628],
  ["#f9ac14", 978, 540, 1015, 468, 1085, 465, 1140, 525, 1068, 642],
  ["#f8ac14", 808, 372, 842, 305, 908, 350, 905, 405, 880, 422, 835, 420],
  ["#f2a915", 732, 392, 808, 372, 835, 420, 775, 478],
  ["#e39b14", 775, 478, 835, 435, 860, 455, 855, 512, 795, 518, 775, 530],
  ["#eba714", 860, 455, 880, 425, 935, 430, 965, 470, 965, 530, 950, 540, 872, 545, 855, 512],
  ["#eea814", 1020, 420, 1055, 410, 1082, 435, 1080, 465, 1015, 468],
  ["#e5a014", 940, 425, 990, 392, 1020, 415, 1015, 465, 965, 472],
  ["#e9a618", 795, 518, 855, 512, 872, 545, 825, 580],
  ["#e29f14", 775, 535, 795, 520, 820, 580, 785, 660, 745, 595],
  ["#d59a14", 730, 675, 785, 660, 785, 718, 762, 725],
  ["#e9a515", 745, 595, 775, 610, 780, 660, 735, 670, 720, 618],
  ["#e3a020", 125, 610, 155, 560, 180, 550, 228, 595, 210, 655, 160, 667, 135, 655],
  ["#e5a218", 228, 595, 297, 605, 297, 672, 245, 700, 210, 657],
  ["#f6a810", 140, 660, 160, 667, 210, 657, 245, 702, 185, 775],
  ["#ecaa14", 210, 510, 250, 505, 265, 535, 245, 570, 228, 595, 180, 550],
  ["#d48a20", 975, 185, 1055, 165, 1100, 215, 1092, 295, 1050, 295, 1020, 260],
  ["#d68d1a", 1055, 165, 1125, 150, 1095, 218],
  ["#e08a20", 1125, 148, 1300, 108, 1350, 120, 1400, 215, 1397, 305, 1352, 365, 1105, 337, 1092, 295],
  ["#d48820", 1300, 105, 1485, 68, 1497, 178, 1428, 222, 1403, 218, 1350, 120],
  ["#d09018", 1428, 222, 1497, 178, 1508, 265, 1448, 258],
  ["#eb9a15", 1403, 218, 1428, 222, 1448, 258, 1420, 305, 1397, 305],
  ["#e39518", 1420, 305, 1448, 258, 1508, 268, 1510, 285, 1448, 345],
  ["#e8941a", 1352, 365, 1397, 305, 1420, 305, 1448, 345, 1378, 420],
  ["#cd8a1c", 1085, 370, 1105, 337, 1352, 365, 1378, 420, 1250, 560, 1195, 560],
  ["#e09015", 1050, 295, 1092, 295, 1105, 330, 1060, 345],
];
const bioMiddleEdges: number[][] = [
  [210, 510, 240, 505, 262, 533, 245, 572, 228, 595],
  [205, 555, 245, 570],
  [1085, 670, 1130, 680],
];
const bioMiddleFaint: number[][] = [
  [885, 780, 915, 910],
  [160, 410, 262, 398],
  [160, 717, 222, 733],
  [1085, 628, 1135, 678],
  [1195, 555, 1250, 560],
];

const energyYellow: Cell[] = [
  ["#e59f3c", 30, 1245, 215, 1062, 273, 1080, 314, 1560, 104, 1560],
  ["#eda637", 273, 1080, 337, 1022, 543, 905, 852, 1108, 783, 1535, 744, 1560, 314, 1560],
  ["#f7a935", 215, 1062, 303, 975, 337, 1022, 273, 1080],
  ["#eaa535", 303, 975, 476, 803, 543, 880, 543, 905, 337, 1022],
  ["#e9a534", 476, 803, 655, 620, 760, 654, 790, 680, 775, 760, 543, 880],
  ["#efa634", 543, 880, 775, 760, 940, 860, 920, 1050, 878, 1105, 852, 1108, 543, 905],
  ["#e59f3f", 655, 620, 700, 590, 762, 652],
  ["#eaa535", 775, 760, 790, 680, 970, 838, 940, 860],
  ["#fdb135", 940, 860, 970, 838, 1075, 930, 1075, 1045, 920, 1050],
  ["#f5a635", 878, 1105, 920, 1050, 1075, 1045, 1075, 1240],
  ["#f9ac35", 852, 1108, 878, 1105, 1075, 1240, 1075, 1368, 1033, 1378, 783, 1535],
  ["#d99e3c", 1080, 1370, 1183, 1520, 1183, 1560, 744, 1560],
];
const energyYellowFaint: number[][] = [
  [850, 1125, 1005, 1400],
  [476, 803, 575, 865],
];
const energyOrange: Cell[] = [
  ["#d98540", 1075, 930, 1262, 786, 1462, 882, 1452, 1510, 1432, 1560, 1183, 1560, 1183, 1520, 1080, 1370],
  ["#d28044", 1075, 930, 1155, 880, 1182, 932, 1165, 980, 1075, 992],
  ["#d98540", 1155, 880, 1262, 808, 1305, 870, 1293, 915, 1182, 932],
  ["#e68a3f", 1182, 932, 1293, 915, 1332, 993, 1265, 1085, 1255, 1085, 1165, 980],
  ["#dc843e", 1075, 992, 1165, 980, 1255, 1087, 1185, 1165, 1120, 1170, 1075, 1145],
  ["#ec8a44", 1332, 993, 1460, 998, 1458, 1165, 1345, 1178, 1265, 1085],
  ["#e68c40", 1265, 1085, 1345, 1178, 1198, 1190, 1185, 1165],
  ["#e18740", 1198, 1190, 1345, 1178, 1305, 1262, 1225, 1245],
  ["#dd843f", 1345, 1178, 1458, 1165, 1455, 1310, 1392, 1322, 1305, 1262],
  ["#df8640", 1225, 1245, 1305, 1262, 1392, 1322, 1345, 1397, 1262, 1370, 1240, 1350, 1175, 1287],
  ["#d98140", 1185, 1165, 1198, 1190, 1222, 1245, 1175, 1287, 1118, 1248, 1120, 1170],
  ["#da8541", 1075, 1145, 1120, 1170, 1118, 1248, 1075, 1240],
  ["#d87f45", 1075, 1240, 1118, 1248, 1175, 1287, 1168, 1315, 1090, 1380, 1075, 1368],
  ["#e0824a", 1090, 1380, 1168, 1315, 1240, 1350, 1220, 1435, 1215, 1470, 1150, 1472],
  ["#d5803e", 1240, 1350, 1262, 1370, 1345, 1397, 1310, 1482, 1235, 1485, 1220, 1435],
  ["#d28544", 1392, 1322, 1455, 1310, 1453, 1410, 1372, 1388, 1345, 1397],
  ["#cf8246", 1372, 1388, 1453, 1410, 1452, 1510, 1395, 1560, 1345, 1560, 1308, 1482, 1345, 1397],
  ["#e58a42", 1235, 1485, 1310, 1482, 1345, 1560, 1235, 1560],
  ["#d58042", 1150, 1472, 1215, 1470, 1255, 1490, 1232, 1560, 1205, 1560, 1170, 1510],
  ["#d08040", 1452, 1510, 1432, 1560, 1395, 1560],
  ["#d28c3a", 688, 589, 748, 530, 1262, 786, 1075, 930],
  ["#da8f45", 1016, 662, 1262, 786, 1262, 808, 1155, 880, 1100, 902, 1068, 898, 973, 828, 993, 702],
  ["#cf8a3c", 993, 702, 890, 765, 964, 830, 973, 828],
  ["#e09a40", 975, 833, 1068, 898, 1100, 902, 1075, 930, 1020, 882],
];
const energyUpperRight: Cell[] = [
  ["#d98540", 607, 1160, 722, 1262, 758, 1345, 715, 1500, 375, 1555, 282, 1385],
  ["#d68445", 918, 1225, 1238, 1390, 1234, 1772, 838, 1751, 717, 1498, 758, 1345],
  ["#e08540", 690, 1105, 768, 1180, 722, 1262, 607, 1160],
  ["#d98445", 768, 1180, 810, 1165, 918, 1225, 775, 1335, 758, 1345, 722, 1262],
  ["#d8903e", 620, 1068, 688, 1103, 607, 1160, 620, 1148],
];
const energyPale: Cell[] = [
  ["#d28c3a", 390, 628, 450, 585, 565, 650, 790, 770, 965, 875, 897, 995, 590, 1208, 285, 905, 285, 810, 340, 685],
  ["#d29245", 180, 435, 215, 455, 155, 548, 112, 515],
  ["#d49540", 215, 455, 318, 512, 275, 632, 228, 643, 170, 602, 155, 548],
  ["#eba24d", 318, 512, 380, 545, 390, 628, 342, 685, 275, 632],
  ["#d69445", 380, 548, 450, 585, 392, 628],
  ["#e09050", 112, 515, 155, 548, 170, 602, 145, 648, 108, 635, 90, 578],
  ["#eca04f", 65, 568, 90, 578, 108, 635, 70, 680, 10, 628],
  ["#d09048", 90, 578, 112, 515, 65, 568],
  ["#d89a40", 170, 602, 228, 643, 212, 668, 145, 645],
  ["#e69a4a", 145, 648, 212, 668, 215, 775, 188, 803, 98, 708],
  ["#e89b4c", 228, 643, 275, 632, 342, 685, 295, 797, 215, 775, 212, 668],
  ["#d99542", 215, 775, 295, 797, 285, 840, 220, 835, 188, 803],
  ["#d49045", 108, 640, 135, 655, 100, 695, 78, 680],
  ["#d89648", 220, 835, 285, 835, 285, 905, 248, 865],
];
const paleFaint: number[][] = [
  [645, 1260, 872, 1152],
];
const redCells: Cell[] = [
  ["#c85824", 160, 260, 318, 222, 355, 305, 212, 378, 170, 325],
  ["#d05a30", 318, 222, 408, 200, 355, 305],
  ["#c05324", 408, 200, 665, 135, 745, 410, 565, 595, 460, 580, 410, 548, 355, 305],
  ["#d0602a", 665, 135, 895, 82, 912, 100, 948, 348, 915, 387, 815, 430, 745, 410],
  ["#c5572c", 565, 595, 745, 410, 815, 430, 893, 555, 788, 765, 568, 640],
  ["#c75826", 815, 430, 915, 387, 962, 425, 893, 555],
  ["#d8602e", 915, 387, 948, 348, 962, 425],
  ["#c9582a", 212, 378, 355, 305, 410, 548, 380, 545, 190, 430],
  ["#c45a30", 170, 325, 212, 378, 190, 430, 178, 430],
  ["#c95a2a", 460, 580, 565, 595, 568, 640],
  ["#b56424", 915, 100, 995, 60, 1002, 212, 935, 228],
  ["#c06422", 995, 60, 1110, 30, 1165, 152, 1098, 235, 1048, 240, 1002, 212],
  ["#cd6e20", 1110, 30, 1205, 5, 1235, 60, 1238, 95, 1165, 152],
  ["#c46322", 1238, 95, 1290, 90, 1410, 205, 1335, 352, 1178, 305, 1162, 265, 1165, 152],
  ["#bd5c20", 1410, 205, 1533, 315, 1428, 432, 1335, 352],
  ["#b56a1c", 1165, 152, 1162, 265, 1098, 235],
  ["#be6820", 935, 228, 1002, 212, 1048, 240, 1018, 372, 988, 380, 958, 372, 950, 345],
  ["#b85e18", 1048, 240, 1098, 235, 1178, 305, 1125, 425, 1065, 427, 1018, 372],
  ["#bb6818", 1178, 305, 1335, 352, 1310, 495, 1140, 395],
  ["#c06a14", 1335, 352, 1428, 432, 1350, 525, 1310, 495],
  ["#c4681e", 893, 555, 965, 425, 1060, 450, 1200, 545, 940, 612],
  ["#bc681a", 940, 612, 1040, 550, 1200, 548, 1280, 640, 1295, 770, 1125, 955, 945, 860, 918, 790],
  ["#b86a1e", 890, 575, 940, 612, 918, 790, 878, 800, 805, 740],
  ["#b86a20", 790, 768, 805, 740, 875, 798, 870, 815],
  ["#b06a1e", 875, 798, 918, 790, 945, 860, 900, 835],
];
const brownCells: Cell[] = [
  ["#a56028", 465, 112, 633, 265, 595, 325, 385, 197],
  ["#a96120", 385, 197, 595, 325, 600, 362, 570, 517, 270, 575, 245, 510, 275, 310],
  ["#a05c28", 633, 265, 775, 405, 600, 362, 595, 325],
  ["#ab6422", 600, 362, 775, 405, 775, 430, 647, 563, 615, 556, 570, 517],
  ["#a25820", 775, 430, 825, 425, 985, 568, 1018, 680, 1047, 788, 997, 842, 730, 848, 650, 748, 637, 590, 647, 563],
  ["#a75f2c", 270, 575, 570, 517, 615, 556, 637, 590, 650, 748, 585, 850, 528, 885, 320, 842, 258, 590],
  ["#a85a28", 650, 748, 730, 850, 730, 868, 640, 920, 585, 850],
  ["#a66020", 528, 885, 585, 850, 640, 920, 637, 928, 560, 923],
  ["#aa5f20", 320, 842, 528, 885, 488, 990, 335, 908],
  ["#a65e22", 528, 885, 560, 923, 530, 1010, 488, 990],
  ["#a55b22", 560, 923, 637, 928, 615, 1055, 530, 1012],
  ["#b06224", 640, 920, 730, 870, 940, 1020, 925, 1100, 860, 1185, 615, 1058],
  ["#a25e26", 730, 850, 997, 842, 995, 948, 965, 1005, 940, 1020],
  ["#ae5e1e", 997, 842, 1047, 788, 1097, 940, 995, 948],
  ["#a65e24", 995, 948, 1097, 940, 1128, 1040, 1038, 1088, 1000, 1072, 965, 1005],
  ["#a85a2a", 940, 1020, 965, 1005, 1000, 1072, 957, 1110, 925, 1100],
  ["#ae6020", 1000, 1072, 1038, 1088, 1040, 1142, 995, 1170, 957, 1110],
  ["#ad5f20", 1038, 1088, 1128, 1040, 1165, 1155, 1072, 1180, 1040, 1142],
  ["#b06224", 1045, 1215, 1072, 1180, 1165, 1155, 1238, 1390, 1040, 1282],
  ["#ab5c22", 995, 1170, 1040, 1142, 1072, 1180, 1045, 1215],
  ["#ae6022", 925, 1100, 957, 1110, 995, 1170, 955, 1235, 915, 1220, 868, 1185],
  ["#a85e24", 995, 1175, 1045, 1215, 1035, 1270, 955, 1235],
  ["#a05c2c", 220, 560, 240, 535, 280, 710, 265, 712, 115, 668],
  ["#a25a22", 115, 670, 265, 712, 275, 750, 275, 775, 265, 808, 227, 850, 80, 770, 80, 720],
  ["#a85f22", 267, 808, 300, 825, 275, 870, 227, 850],
  ["#a85f22", 300, 828, 320, 830, 335, 908, 275, 872],
  ["#9c5c20", 270, 775, 298, 775, 310, 825, 265, 808],
  ["#a05c26", 30, 748, 55, 720, 80, 740, 75, 770],
];

const signalCells: Cell[] = [
  ["#c4ac00", 575, 115, 872, 83, 902, 95, 902, 182, 598, 188],
  ["#d4c000", 598, 188, 902, 182, 902, 338, 845, 355, 690, 358, 635, 278],
  ["#c4ac00", 690, 358, 795, 360, 802, 395, 732, 410],
  ["#c4b000", 795, 360, 845, 353, 878, 380, 870, 392, 802, 395],
  ["#c4b000", 845, 353, 902, 338, 902, 378, 878, 380],
  ["#d4c000", 732, 410, 802, 395, 870, 392, 902, 397, 902, 650],
  ["#d0b800", 500, 92, 575, 115, 565, 140, 540, 145],
  ["#c8bc00", 540, 145, 565, 140, 598, 188, 578, 195],
  ["#924300", 415, 490, 620, 493, 645, 545, 585, 590, 470, 585, 413, 552],
  ["#924300", 620, 493, 745, 465, 790, 525, 705, 555, 645, 545],
  ["#8a4108", 413, 600, 470, 585, 585, 590, 625, 612, 540, 695, 460, 695, 410, 685],
  ["#84400a", 700, 570, 790, 545, 850, 610, 695, 600],
  ["#994200", 625, 612, 700, 600, 850, 610, 902, 680, 902, 735, 730, 750, 545, 695],
  ["#a04a05", 410, 550, 470, 585, 413, 600],
  ["#924300", 585, 590, 640, 565, 695, 570, 695, 600, 625, 612],
  ["#8f4200", 410, 685, 460, 695, 480, 735, 410, 745],
  ["#8f4200", 430, 80, 470, 80, 490, 110, 432, 112],
  ["#df183c", 435, 1395, 902, 875, 902, 1440, 620, 1440, 478, 1410],
  ["#e01a3e", 385, 1448, 435, 1395, 478, 1410, 457, 1462],
  ["#e81e40", 478, 1410, 620, 1440, 582, 1485, 457, 1462],
  ["#d81c3c", 620, 1440, 700, 1440, 700, 1505, 582, 1485],
  ["#d91a3a", 700, 1440, 900, 1440, 890, 1545, 700, 1505],
  ["#dc2246", 385, 1448, 900, 1550, 278, 1550],
  ["#d8284a", 380, 1450, 440, 1460, 480, 1550, 290, 1550],
  ["#e62848", 440, 1460, 695, 1512, 670, 1550, 480, 1550],
  ["#d82048", 695, 1512, 745, 1525, 740, 1550, 670, 1550],
];
const membraneEdges: number[][] = [
  [545, 695, 480, 735, 410, 745],
  [480, 735, 750, 742, 902, 788],
  [902, 735, 840, 760],
  [650, 612, 615, 715],
];
const signalEdges: number[][] = [
  [1077, 832, 1545, 790],
  [1212, 1262, 1545, 1198],
];
const signalFaint: number[][] = [
  [1155, 827, 1525, 980, 1492, 1205],
  [1525, 980, 1545, 905],
];

// Thick division lines between groups, by width
const heavyLines: number[][] = [
  [13, 319, 1596, 421],
  [13, 1018, 1189, 765, 1759, 638],
  [1615, 12, 1619, 354, 1598, 420, 1628, 665],
  [1619, 354, 1764, 354],
  [1775, 12, 1764, 354, 1759, 638, 2210, 1013, 2500, 905],
  [2210, 1013, 2342, 1404, 2500, 1861],
  [2500, 2010, 2327, 2421, 2293, 2500],
];
const mediumLines: number[][] = [
  [1189, 765, 1198, 849],
  [1103, 944, 1198, 849, 2341, 1414, 2328, 2407],
  [1103, 944, 45, 1994, 168, 2500],
  [12, 1978, 45, 1994],
];
const groupLines: number[][] = [
  [1600, 688, 1629, 846, 1840, 897, 1826, 999, 1873, 1180],
  [1941, 793, 1826, 999, 1717, 1103],
  [1629, 846, 1532, 1011],
  [12, 1184, 497, 1519, 497, 1546],
  [12, 1723, 127, 1757, 296, 1744],
  [127, 1757, 178, 1860],
  [597, 893, 750, 1292],
  [978, 811, 1078, 968],
  [139, 329, 240, 963],
  [951, 381, 985, 804],
  [93, 12, 13, 300],
  [650, 12, 650, 359],
  [1070, 12, 1038, 384],
  [1594, 12, 1567, 420],
  [2328, 2427, 2500, 2499],
];
const lightLines: number[][] = [
  [1103, 944, 1722, 1490, 1722, 2190],
  [1722, 1490, 2013, 1302],
  [1190, 2500, 1724, 2192, 1895, 2435, 1895, 2500],
];
const frame: number[] = [6, 6, 2506, 6, 2506, 2506, 6, 2506, 6, 6];

// Labels
const labelText = ["Folding, Sorting", "and Degradation", "Translation", "Not", "Mapped", "Energy", "Metabolism", "Biosynthesis", "Central", "Carbon", "Metabolism", "Transcription", "DNA", "Maintenance", "Signal", "Transduction", "Membrane", "Transport", "Cell", "Motility", "Cytoskeleton", "Other", "Enzymes"];
const labelX = [906, 903, 664, 2146, 2134, 1381, 1368, 332, 1761, 1761, 1761, 1692, 1690, 1684, 2403, 2401, 2420, 2420, 2443, 2443, 2368, 61, 60];
const labelY = [168, 280, 662, 419, 550, 1970, 2203, 1323, 894, 945, 995, 186, 499, 516, 1250, 1272, 1921, 1943, 2320, 2345, 2487, 2311, 2330];
const labelSize = [114, 114, 174.5, 133, 132, 234.5, 234, 76, 50, 50, 50, 17.5, 17, 17, 22, 22, 22, 22, 24, 24, 14, 18, 18];

function toPoints(c: Crop, list: number[]) {
  const pts: { x: number; y: number }[] = [];
  for (let i = 0; i + 1 < list.length; i += 2) {
    pts.push({ x: c.x + list[i] / c.sx, y: c.y + list[i + 1] / c.sy });
  }
  return pts;
}

function cellSets(c: Crop, cells: Cell[]) {
  return cells.map((cell) => {
    const pts = toPoints(c, cell.slice(1) as number[]);
    pts.push(pts[0]);
    return { data: pts, borderColor: "#000", borderWidth: 1.2, polyFill: cell[0] as string };
  });
}
function lineSets(c: Crop, lines: number[][], width: number, color = "#000") {
  return lines.map((l) => ({ data: toPoints(c, l), borderColor: color, borderWidth: width }));
}

const FAINT = "rgba(0,0,0,0.42)";

function buildDatasets() {
  const sets: any[] = [
    ...cellSets(FULL, regions),
    ...cellSets(Z1, notMappedCells),
    ...lineSets(Z1, notMappedEdges, 1.2),
    ...cellSets(Z2, foldingLeft),
    ...cellSets(Z3, foldingMid),
    ...lineSets(Z3, foldingMidFaint, 1, FAINT),
    ...cellSets(Z10, stripAndDna),
    ...lineSets(Z10, stripFine, 1, FAINT),
    ...lineSets(Z10, dnaGroupLines, 2.6),
    ...cellSets(Z2, translationLeft),
    ...lineSets(Z2, translationFaint, 1, FAINT),
    ...cellSets(Z5, translationLower),
    ...cellSets(Z11, translationCentre),
    ...lineSets(Z11, translationCentreFaint, 1, FAINT),
    ...cellSets(Z3, translationRightA),
    ...lineSets(Z3, translationRightEdges, 1.2),
    ...cellSets(Z4, bioLower),
    ...cellSets(Z4, bioUpper),
    ...lineSets(Z4, bioUpperEdges, 1.2),
    ...lineSets(Z4, bioUpperFaint, 1, FAINT),
    ...cellSets(Z8, bioOrange),
    ...cellSets(Z8, otherEnzymes),
    ...cellSets(Z5, bioMiddle),
    ...lineSets(Z5, bioMiddleEdges, 1.2),
    ...lineSets(Z5, bioMiddleFaint, 1, FAINT),
    ...cellSets(O, energyYellow),
    ...lineSets(O, energyYellowFaint, 1, FAINT),
    ...cellSets(O, energyOrange),
    ...cellSets(Z7, energyUpperRight),
    ...cellSets(Z6, energyPale),
    ...lineSets(Z6, paleFaint, 1, FAINT),
    ...cellSets(Z6, redCells),
    ...cellSets(Z7, brownCells),
    ...cellSets(Z9, signalCells),
    ...lineSets(Z9, membraneEdges, 1.2),
    ...lineSets(Z7, signalEdges, 1.2),
    ...lineSets(Z7, signalFaint, 1, FAINT),
    ...lineSets(FULL, lightLines, 2.2),
    ...lineSets(FULL, groupLines, 2.8),
    ...lineSets(FULL, mediumLines, 4),
    ...lineSets(FULL, heavyLines, 6),
    ...lineSets(FULL, [frame], 12),
  ];
  return sets.map((s, i) => ({
    ...s,
    order: -i,
    showLine: true,
    fill: false,
    tension: 0,
    pointRadius: 0,
    pointHoverRadius: 0,
    borderJoinStyle: "miter",
    clip: false,
  }));
}

const polygonFill = {
  id: "polygonFill",
  beforeDatasetDraw(chart: any, args: any) {
    const ds = chart.data.datasets[args.index];
    if (!ds.polyFill) return;
    const { x, y } = chart.scales;
    const ctx = chart.ctx;
    ctx.save();
    ctx.beginPath();
    ds.data.forEach((p: any, i: number) => {
      const px = x.getPixelForValue(p.x);
      const py = y.getPixelForValue(p.y);
      if (i === 0) ctx.moveTo(px, py);
      else ctx.lineTo(px, py);
    });
    ctx.closePath();
    ctx.fillStyle = ds.polyFill;
    ctx.fill();
    ctx.restore();
  },
};

const regionLabels = {
  id: "regionLabels",
  afterDatasetsDraw(chart: any) {
    const { x, y } = chart.scales;
    const ctx = chart.ctx;
    ctx.save();
    ctx.textAlign = "center";
    ctx.textBaseline = "alphabetic";
    labelText.forEach((t, i) => {
      const size = labelSize[i];
      const px = x.getPixelForValue(labelX[i]);
      const py = y.getPixelForValue(labelY[i]);
      ctx.font = `bold ${size}px "DejaVu Sans"`;
      if (size >= 40) {
        const off = Math.max(1.5, size * 0.008);
        ctx.fillStyle = "rgba(0,0,0,0.8)";
        ctx.fillText(t, px + off, py + off);
      } else {
        ctx.lineWidth = 2.2;
        ctx.lineJoin = "round";
        ctx.strokeStyle = "rgba(0,0,0,0.75)";
        ctx.strokeText(t, px + 0.5, py + 0.5);
      }
      ctx.fillStyle = "#fff";
      ctx.fillText(t, px, py);
    });
    ctx.restore();
  },
};

export default function App() {
  const ref = useRef<HTMLCanvasElement>(null);
  useEffect(() => {
    if (!ref.current) return;
    const chart = new Chart(ref.current, {
      type: "scatter",
      data: { datasets: buildDatasets() },
      options: {
        animation: false,
        responsive: false,
        maintainAspectRatio: false,
        devicePixelRatio: 1,
        layout: { padding: 0 },
        events: [],
        plugins: { legend: { display: false }, tooltip: { enabled: false } },
        scales: {
          x: { type: "linear", min: 0, max: 2512, display: false },
          y: { type: "linear", min: 0, max: 2512, reverse: true, display: false },
        },
      },
      plugins: [polygonFill, regionLabels],
    } as any);
    return () => chart.destroy();
  }, []);
  return (
    <canvas
      ref={ref}
      width={2512}
      height={2512}
      style={{ position: "fixed", left: 0, top: 0, width: 2512, height: 2512, display: "block", background: "#000" }}
    />
  );
}
